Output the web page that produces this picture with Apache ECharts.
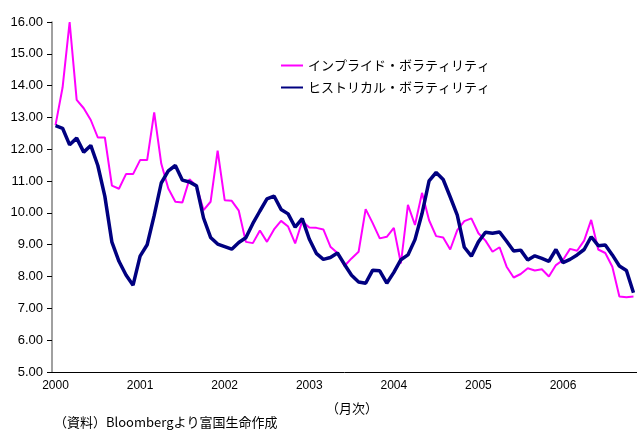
<!DOCTYPE html>
<html>
<head>
<meta charset="utf-8">
<script src="https://cdn.jsdelivr.net/npm/echarts@6/dist/echarts.min.js"></script>
<style>
html,body{margin:0;padding:0;background:#fff;}
#chart{width:637px;height:431px;}
</style>
</head>
<body>
<div id="chart"></div>
<script>
// Monthly data: Jan 2000 .. Nov 2006
const startYear = 2000;
const monthCount = 83;
const seriesNames = ['インプライド・ボラティリティ', 'ヒストリカル・ボラティリティ'];
const impliedVol = [
  12.76, 13.94, 16.0, 13.55, 13.29, 12.92, 12.37, 12.37, 10.86, 10.76, 11.22, 11.22,
  11.66, 11.66, 13.16, 11.55, 10.77, 10.35, 10.33, 11.06, 10.85, 10.09, 10.35, 11.96,
  10.40, 10.38, 10.07, 9.09, 9.05, 9.45, 9.09, 9.48, 9.75, 9.57, 9.04, 9.74,
  9.54, 9.53, 9.48, 8.94, 8.74, 8.33, 8.57, 8.78, 10.12, 9.68, 9.20, 9.25,
  9.53, 8.41, 10.25, 9.62, 10.63, 9.77, 9.27, 9.23, 8.85, 9.46, 9.74, 9.83,
  9.36, 9.13, 8.78, 8.92, 8.31, 7.97, 8.08, 8.26, 8.19, 8.23, 8.00, 8.36,
  8.52, 8.87, 8.81, 9.13, 9.78, 8.85, 8.74, 8.31, 7.37, 7.35, 7.37
];
const historicalVol = [
  12.74, 12.66, 12.14, 12.35, 11.91, 12.12, 11.49, 10.52, 9.08, 8.48, 8.05, 7.73,
  8.64, 9.00, 9.92, 10.94, 11.32, 11.49, 11.03, 10.97, 10.85, 9.84, 9.23, 9.02,
  8.94, 8.86, 9.07, 9.22, 9.67, 10.06, 10.44, 10.53, 10.11, 9.97, 9.55, 9.82,
  9.18, 8.73, 8.54, 8.60, 8.74, 8.38, 8.04, 7.83, 7.79, 8.20, 8.18, 7.79,
  8.13, 8.53, 8.68, 9.16, 9.98, 11.01, 11.27, 11.05, 10.50, 9.93, 8.92, 8.64,
  9.09, 9.39, 9.36, 9.40, 9.11, 8.80, 8.83, 8.52, 8.65, 8.57, 8.48, 8.85,
  8.44, 8.54, 8.68, 8.85, 9.25, 8.97, 8.99, 8.68, 8.33, 8.19, 7.49
];
const yTicks = ['5.00','6.00','7.00','8.00','9.00','10.00','11.00','12.00','13.00','14.00','15.00','16.00'];
const xAxisTitle = '（月次）';
const sourceNote = '（資料）Bloombergより富国生命作成';

const categories = [];
for (let i = 0; i < monthCount; i++) {
  const y = startYear + Math.floor(i / 12);
  const m = (i % 12) + 1;
  categories.push(y + '-' + (m < 10 ? '0' + m : m));
}

const numFont = '"Liberation Sans", Arial, sans-serif';
const jpFont = '"Noto Sans CJK JP", sans-serif';

const chart = echarts.init(document.getElementById('chart'), null, {renderer: 'canvas'});
chart.setOption({
  animation: false,
  backgroundColor: '#ffffff',
  grid: {left: 52, top: 22, width: 587, height: 350, containLabel: false},
  legend: {
    orient: 'vertical',
    left: 275,
    top: 54,
    itemWidth: 22,
    itemHeight: 12,
    itemGap: 9,
    itemStyle: {opacity: 0},
    textStyle: {fontFamily: jpFont, fontSize: 13, color: '#000'},
    data: seriesNames
  },
  xAxis: {
    type: 'category',
    data: categories,
    boundaryGap: true,
    axisLine: {lineStyle: {color: '#000', width: 1}},
    axisTick: {inside: true, length: 4, interval: 11, lineStyle: {color: '#000'}},
    axisLabel: {
      interval: 11,
      color: '#000',
      fontFamily: numFont,
      fontSize: 12,
      margin: 8,
      formatter: v => v.slice(0, 4)
    },
    splitLine: {show: false}
  },
  yAxis: {
    type: 'value',
    min: 5,
    max: 16,
    interval: 1,
    axisLine: {show: true, lineStyle: {color: '#808080', width: 1.5}},
    axisTick: {show: true, inside: false, length: 5, lineStyle: {color: '#000'}},
    axisLabel: {
      color: '#000',
      fontFamily: numFont,
      fontSize: 13,
      margin: 9,
      formatter: v => yTicks[Math.round(v - 5)]
    },
    splitLine: {show: false}
  },
  series: [
    {
      name: seriesNames[0],
      type: 'line',
      data: impliedVol,
      symbol: 'none',
      lineStyle: {color: '#ff00ff', width: 2},
      itemStyle: {color: '#ff00ff'},
      z: 2
    },
    {
      name: seriesNames[1],
      type: 'line',
      data: historicalVol,
      symbol: 'none',
      lineStyle: {color: '#000080', width: 3.5},
      itemStyle: {color: '#000080'},
      z: 3
    }
  ],
  graphic: [
    {
      type: 'text',
      left: 326,
      top: 402,
      style: {text: xAxisTitle, font: '13px ' + jpFont, fill: '#000'}
    },
    {
      type: 'text',
      left: 54,
      top: 416,
      style: {text: sourceNote, font: '13px ' + jpFont, fill: '#000'}
    }
  ]
});
</script>
</body>
</html>
